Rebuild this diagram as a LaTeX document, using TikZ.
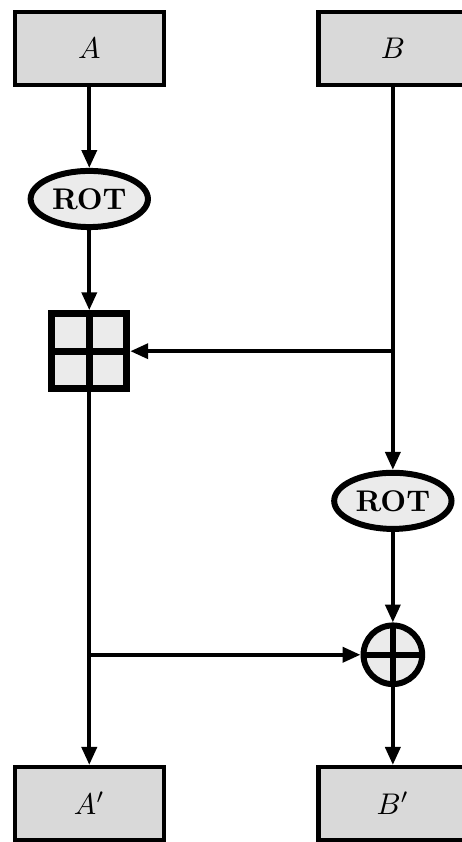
\documentclass[tikz,border=0pt]{standalone}
\usepackage{amsmath}
\usepackage{tikz}
\usetikzlibrary{arrows.meta,positioning,calc,shapes.geometric}
\definecolor{regfill}{gray}{0.85}
\definecolor{opfill}{gray}{0.92}
\tikzset{
  reg/.style={draw,line width=1.4pt,fill=regfill,minimum width=1.75cm,minimum height=0.86cm,inner sep=0pt},
  rotop/.style={ellipse,draw,line width=2pt,fill=opfill,minimum width=1.38cm,minimum height=0.66cm,inner sep=0pt,font=\bfseries},
  addop/.style={rectangle,draw,line width=2.4pt,fill=opfill,minimum size=0.88cm,inner sep=0pt,
    path picture={\draw[line width=2.4pt] (path picture bounding box.north)--(path picture bounding box.south)
      (path picture bounding box.west)--(path picture bounding box.east);}},
  xorop/.style={circle,draw,line width=2pt,fill=opfill,minimum size=0.69cm,inner sep=0pt,
    path picture={\draw[line width=2pt] (path picture bounding box.north)--(path picture bounding box.south)
      (path picture bounding box.west)--(path picture bounding box.east);}},
  flow/.style={-{Triangle[length=6pt,width=5pt]},line width=1.3pt},
}

\begin{document}
\begin{tikzpicture}
    \def\xa{1.05}\def\xb{4.62}
    \useasboundingbox (0,0) rectangle (5.433,-9.902);
    % inputs
    \node[reg] (Ain) at (\xa,-0.57) {$A$};
    \node[reg] (Bin) at (\xb,-0.57) {$B$};
    % left branch: rotate, then add B
    \node[rotop] (rotA) at (\xa,-2.34) {ROT};
    \node[addop] (add) at (\xa,-4.13) {};
    % right branch: rotate, then xor with new A
    \node[rotop] (rotB) at (\xb,-5.89) {ROT};
    \node[xorop] (xor) at (\xb,-7.70) {};
    % outputs
    \node[reg] (Aout) at (\xa,-9.45) {$A'$};
    \node[reg] (Bout) at (\xb,-9.45) {$B'$};
    % taps
    \coordinate (tapB) at (Bin.south |- add.east);
    \coordinate (tapA) at (add.south |- xor.west);
    \draw[flow] (Ain) -- (rotA);
    \draw[flow] (rotA) -- (add);
    \draw[flow] (Bin) -- (rotB);
    \draw[flow] (tapB) -- (add.east);
    \draw[flow] (add) -- (Aout);
    \draw[flow] (tapA) -- (xor.west);
    \draw[flow] (rotB) -- (xor);
    \draw[flow] (xor) -- (Bout);
\end{tikzpicture}
\end{document}
